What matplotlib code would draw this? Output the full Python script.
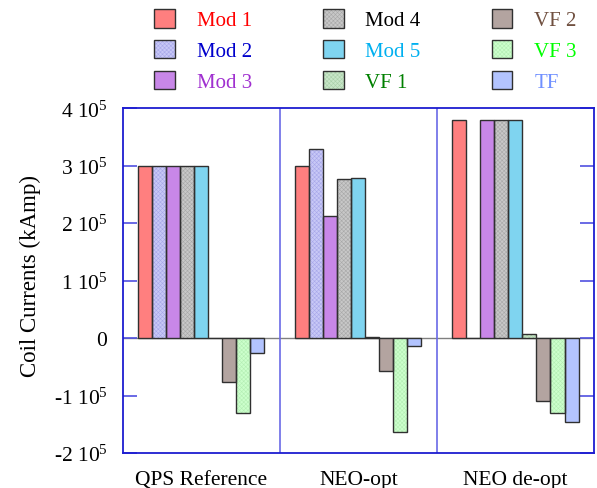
import numpy as np
import matplotlib
matplotlib.use('Agg')
import matplotlib.pyplot as plt
from matplotlib.legend_handler import HandlerTuple

plt.rcParams['font.family'] = ['Liberation Serif', 'DejaVu Serif']
plt.rcParams['mathtext.fontset'] = 'custom'
plt.rcParams['mathtext.rm'] = 'Liberation Serif'
plt.rcParams['mathtext.default'] = 'regular'
plt.rcParams['hatch.linewidth'] = 0.4

configs = ['QPS Reference', 'NEO-opt', 'NEO de-opt']
coils = ['Mod 1', 'Mod 2', 'Mod 3', 'Mod 4', 'Mod 5', 'VF 1', 'VF 2', 'VF 3', 'TF']

# coil currents per configuration, kAmp
qps_ref = [3.00e5, 3.00e5, 3.00e5, 3.00e5, 3.00e5, 0.0, -0.77e5, -1.31e5, -0.26e5]
neo_opt = [3.00e5, 3.29e5, 2.12e5, 2.77e5, 2.79e5, 0.01e5, -0.57e5, -1.63e5, -0.13e5]
neo_deopt = [3.80e5, 0.0, 3.80e5, 3.80e5, 3.80e5, 0.07e5, -1.10e5, -1.31e5, -1.46e5]

fill_colors = ['#ff7f7f', '#c8c8f6', '#c887e8', '#c8c8c8', '#7fd4f0',
               '#c8e6c8', '#b3a4a0', '#ccffcc', '#b3c4ff']
hatch_colors = [None, '#a8a8ea', None, '#a8a8a8', None,
                '#aad0aa', None, '#b4eeb4', None]
hatches = [None, 'xxxxxxxx', None, 'xxxxxxxx', None, 'xxxxxxxx', None, 'xxxxxxxx', None]
text_colors = ['#ff0000', '#0000cc', '#a030d0', '#000000', '#00b0f0',
               '#008000', '#705040', '#00ff00', '#7090ff']

values = np.array([qps_ref, neo_opt, neo_deopt])

fig = plt.figure(figsize=(5.97, 4.89), dpi=100)
ax = fig.add_axes([0.2055, 0.0716, 0.7895, 0.705])

x = np.arange(len(configs))
w = 0.0892
handles = []
for i, name in enumerate(coils):
    pos = x + (i - 4) * w
    hc = hatch_colors[i] or fill_colors[i]
    ax.bar(pos, values[:, i], w, color=fill_colors[i], edgecolor=hc,
           hatch=hatches[i], linewidth=0, zorder=2)
    ax.bar(pos, values[:, i], w, fill=False, edgecolor='#303030', linewidth=1.0, zorder=3)
    inner = plt.Rectangle((0, 0), 1, 1, facecolor=fill_colors[i], edgecolor=hc,
                          hatch=hatches[i], linewidth=0)
    outline = plt.Rectangle((0, 0), 1, 1, fill=False, edgecolor='#303030', linewidth=1.0)
    handles.append((inner, outline))

ax.axhline(0, color='#808080', linewidth=1.0, zorder=1)
for d in [0.5, 1.5]:
    ax.axvline(d, color='#6a6ae6', linewidth=1.2, zorder=1)

ax.set_xlim(-0.5, 2.5)
ax.set_ylim(-2e5, 4e5)
ax.set_xticks(x)
ax.set_xticklabels(configs, fontsize=15.5)
ax.tick_params(axis='x', length=0, pad=12)

yt = [-2e5, -1e5, 0, 1e5, 2e5, 3e5, 4e5]
ylabels = ['-2 10$^5$', '-1 10$^5$', '0', '1 10$^5$', '2 10$^5$', '3 10$^5$', '4 10$^5$']
ax.set_yticks(yt)
ax.set_yticklabels(ylabels, fontsize=15.5)
ax.tick_params(axis='y', direction='in', length=10, width=1.2, color='#5050e0',
               right=True, pad=11)
ax.set_ylabel('Coil Currents (kAmp)', fontsize=16.5, labelpad=9, y=0.515)

for sp in ax.spines.values():
    sp.set_color('#1c1cd0')
    sp.set_linewidth(1.3)

leg = fig.legend(handles, coils, ncol=3, loc='upper left',
                 handler_map={tuple: HandlerTuple(ndivide=1, pad=0)},
                 bbox_to_anchor=(154 / 597, 1 - 10 / 489), frameon=False,
                 fontsize=15, handlelength=1.0, handleheight=1.0,
                 handletextpad=1.05, columnspacing=3.4, labelspacing=0.45,
                 borderpad=0, borderaxespad=0)
for t, c in zip(leg.get_texts(), text_colors):
    t.set_color(c)

fig.savefig('out.png', dpi=100)
